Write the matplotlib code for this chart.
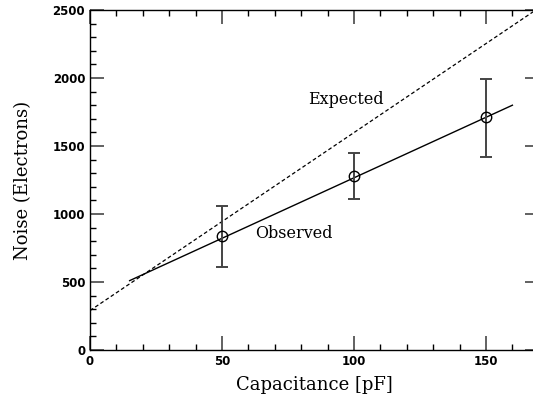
import matplotlib
matplotlib.use("Agg")
import matplotlib.pyplot as plt
from matplotlib.ticker import MultipleLocator

# data
cap = [50, 100, 150]
noise = [840, 1280, 1710]
err_lo = [613, 1108, 1421]
err_hi = [1061, 1448, 1990]

obs_x = [15, 160]
obs_y = [510, 1800]

exp_x = [0, 170]
exp_y = [290, 2515]

fig = plt.figure(figsize=(5.33, 3.94), dpi=100)
ax = fig.add_axes([0.1689, 0.1117, 0.842, 0.8629])

ax.plot(exp_x, exp_y, color='black', lw=0.9, ls=(0, (3, 2)))
ax.plot(obs_x, obs_y, color='black', lw=1.0)

yerr = [[n - lo for n, lo in zip(noise, err_lo)], [hi - n for n, hi in zip(noise, err_hi)]]
ax.errorbar(cap, noise, yerr=yerr, fmt='none', ecolor='#444444', elinewidth=1.4,
            capsize=4, capthick=1.4)
ax.plot(cap, noise, 'o', mfc='none', mec='black', ms=7.5, mew=1.0)

ax.text(82.5, 1840, 'Expected', family='DejaVu Serif', fontsize=11.5, va='center')
ax.text(62.5, 855, 'Observed', family='DejaVu Serif', fontsize=11.5, va='center')

ax.set_xlim(0, 170)
ax.set_ylim(0, 2500)
ax.xaxis.set_major_locator(MultipleLocator(50))
ax.xaxis.set_minor_locator(MultipleLocator(10))
ax.yaxis.set_major_locator(MultipleLocator(500))
ax.yaxis.set_minor_locator(MultipleLocator(100))
ax.tick_params(which='both', direction='in', top=True, right=True)
ax.tick_params(which='major', length=10, width=1.3, color='#555555', labelsize=8.5)
ax.tick_params(which='minor', length=4.5, width=1.0, color='black')
ax.tick_params(axis='y', which='minor', right=False)
for lab in ax.get_xticklabels() + ax.get_yticklabels():
    lab.set_fontweight('bold')
for s in ax.spines.values():
    s.set_linewidth(1.0)

ax.set_xlabel('Capacitance [pF]', family='DejaVu Serif', fontsize=13, labelpad=6)
ax.set_ylabel('Noise (Electrons)', family='DejaVu Serif', fontsize=13, labelpad=15)

fig.savefig('out.png', dpi=100)
